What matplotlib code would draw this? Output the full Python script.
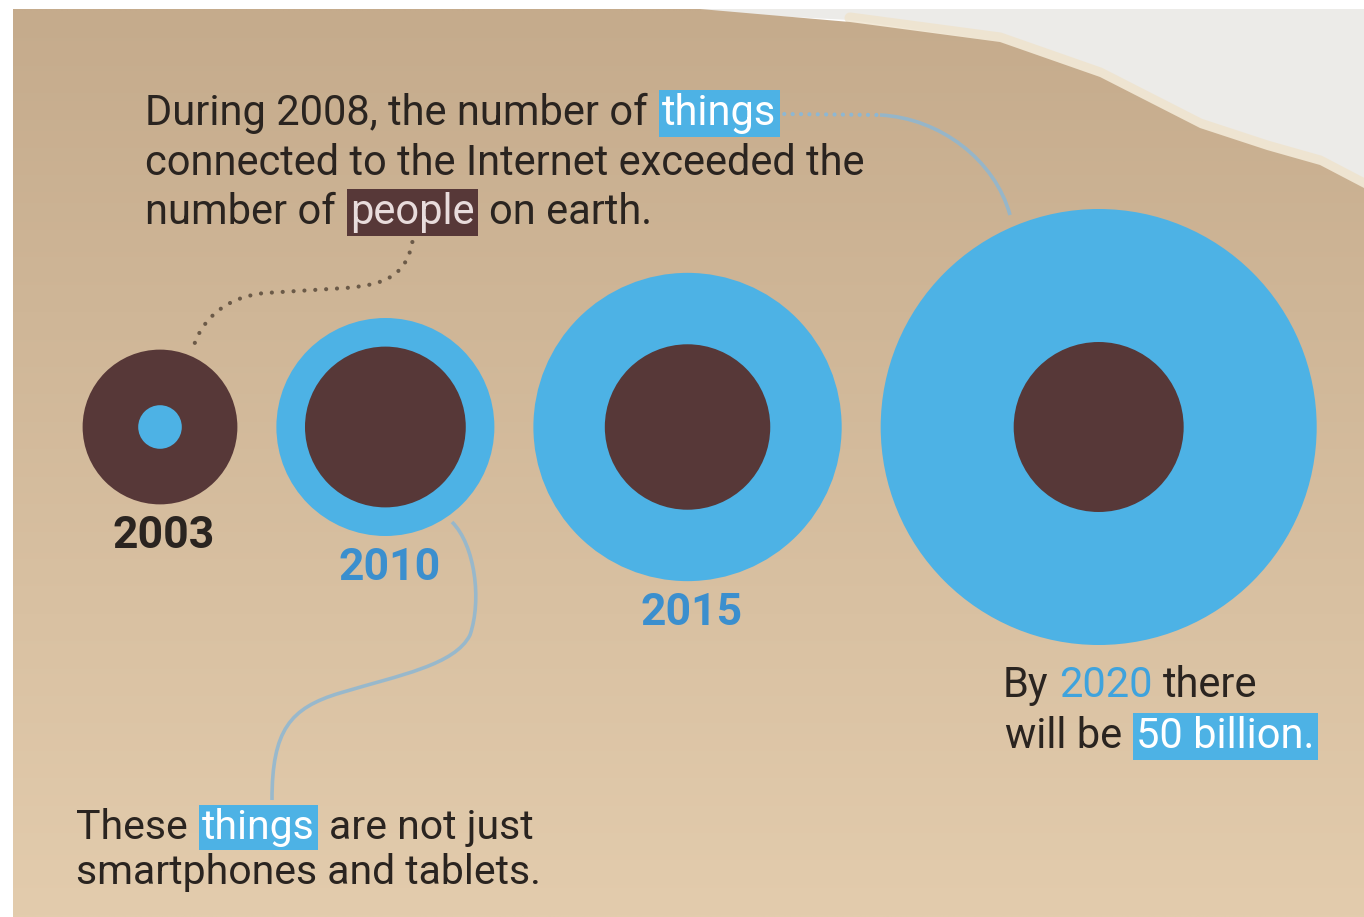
import numpy as np
import matplotlib.pyplot as plt
from matplotlib.patches import Circle, Polygon, PathPatch
from matplotlib.path import Path

# Data: things connected to the Internet vs people on earth (billions)
years = ['2003', '2010', '2015', '2020']
things_bn = [0.5, 12.5, 25, 50]
people_bn = [6.3, 6.8, 7.2, 7.6]
label_under = [True, True, True, False]

# colours
BLUE = '#4db2e5'
BROWN = '#573838'
INK = '#2a2420'
YEAR_BLUE = '#3b8fce'
LINE_BLUE = '#8db7d3'

W, H = 1364, 917
fig = plt.figure(figsize=(W / 100, H / 100), dpi=100, facecolor='white')
ax = fig.add_axes([0, 0, 1, 1])
ax.set_xlim(0, W)
ax.set_ylim(H, 0)
ax.axis('off')
renderer = fig.canvas.get_renderer()

# --- paper background ---
ax.add_patch(Polygon([(640, 9), (W, 9), (W, 200), (1000, 42), (850, 20)],
                     closed=True, fc='#ecebe8', ec='none', zorder=0))
paper_edge = [(13, 9), (700, 9), (850, 22), (1000, 42), (1100, 77), (1200, 128),
              (1267, 150), (1320, 165), (W, 188), (W, H), (13, H)]
ax.plot([p[0] for p in paper_edge[2:9]], [p[1] - 4 for p in paper_edge[2:9]],
        color='#efe3cc', lw=8, alpha=0.8, zorder=0.5, solid_capstyle='round')
paper = Polygon(paper_edge, closed=True, fc='none', ec='none')
ax.add_patch(paper)
top_c = np.array([197, 171, 140]) / 255
bot_c = np.array([227, 204, 173]) / 255
t = np.linspace(0, 1, 256)[:, None, None]
grad = top_c * (1 - t) + bot_c * t
grad = np.repeat(grad, 4, axis=1)
img = ax.imshow(grad, extent=(13, W, H, 9), aspect='auto', zorder=1, interpolation='bilinear')
img.set_clip_path(paper)

# --- circles, area proportional to value ---
k = 218 / np.sqrt(max(things_bn))
r_things = [k * np.sqrt(v) for v in things_bn]
r_people = [k * np.sqrt(v) for v in people_bn]
cy = 427
gap = 39
x = 160
for i, yr in enumerate(years):
    rt, rp = r_things[i], r_people[i]
    R = max(rt, rp)
    if i > 0:
        x += max(r_things[i - 1], r_people[i - 1]) + gap + R
    if rt >= rp:
        ax.add_patch(Circle((x, cy), rt, fc=BLUE, ec='none', zorder=3))
        ax.add_patch(Circle((x, cy), rp, fc=BROWN, ec='none', zorder=4))
    else:
        ax.add_patch(Circle((x, cy), rp, fc=BROWN, ec='none', zorder=3))
        ax.add_patch(Circle((x, cy), rt, fc=BLUE, ec='none', zorder=4))
    if label_under[i]:
        col = INK if people_bn[i] > things_bn[i] else YEAR_BLUE
        ax.text(x + 4, cy + R + 44, yr, ha='center', va='baseline', fontsize=32,
                fontweight='bold', color=col, zorder=5, family=['Roboto', 'DejaVu Sans'])

# --- annotation text with highlighted words ---
FAM = ['Roboto', 'DejaVu Sans']

def text_line(x, y, parts, size):
    sp = ax.text(0, 0, 'a a', fontsize=size, family=FAM)
    sp2 = ax.text(0, 0, 'aa', fontsize=size, family=FAM)
    space = sp.get_window_extent(renderer).width - sp2.get_window_extent(renderer).width
    sp.remove()
    sp2.remove()
    spans = []
    for s, style in parts:
        kw = dict(fontsize=size, family=FAM, va='baseline', zorder=6, color=INK)
        pad = 0
        if style == 'blue':
            kw.update(color='white', bbox=dict(boxstyle='square,pad=0.08', fc=BLUE, ec='none'))
            pad = 4
        elif style == 'dark':
            kw.update(color='#e8dcdc', bbox=dict(boxstyle='square,pad=0.08', fc=BROWN, ec='none'))
            pad = 4
        elif style == 'bluetext':
            kw.update(color='#3fa3dd')
        x += pad
        tx = ax.text(x, y, s, **kw)
        w = tx.get_window_extent(renderer).width
        spans.append((x - pad, x + w + pad))
        x += w + pad + space
    return spans

l1 = text_line(145, 125, [('During 2008, the number of', 'n'), ('things', 'blue')], 30)
text_line(145, 175, [('connected to the Internet exceeded the', 'n')], 30)
l3 = text_line(145, 224, [('number of', 'n'), ('people', 'dark'), ('on earth.', 'n')], 30)

text_line(76, 839, [('These', 'n'), ('things', 'blue'), ('are not just', 'n')], 29.5)
text_line(76, 884, [('smartphones and tablets.', 'n')], 29.5)

text_line(1003, 697, [('By', 'n'), ('2020', 'bluetext'), ('there', 'n')], 30)
text_line(1005, 748, [('will be', 'n'), ('50 billion.', 'blue')], 30)

# --- connector lines ---
def curve(points, codes, **kw):
    ax.add_patch(PathPatch(Path(points, codes), fc='none', **kw))

C4 = Path.CURVE4
# people -> 2003 (dotted brown)
px = (l3[1][0] + l3[1][1]) / 2
curve([(px, 242), (px - 6, 275), (px - 27, 285), (px - 67, 288), (265, 293),
       (225, 297), (200, 320), (192, 352)],
      [Path.MOVETO, C4, C4, C4, Path.LINETO, C4, C4, C4],
      ec='#6b5a48', lw=3, linestyle=(0, (0.01, 2.6)), capstyle='round', zorder=2)
# things -> 2020
tx_end = l1[1][1] + 4
curve([(tx_end, 114), (880, 115)], [Path.MOVETO, Path.LINETO],
      ec=LINE_BLUE, lw=3, linestyle=(0, (0.01, 2.0)), capstyle='round', zorder=2)
curve([(880, 115), (940, 118), (995, 160), (1010, 215)],
      [Path.MOVETO, C4, C4, C4], ec=LINE_BLUE, lw=2.6, alpha=0.85, zorder=2)
# 2010 -> "These things"
curve([(452, 522), (475, 545), (482, 600), (470, 635), (455, 665), (400, 675),
       (340, 693), (290, 708), (272, 730), (272, 800)],
      [Path.MOVETO, C4, C4, C4, C4, C4, C4, C4, C4, C4],
      ec=LINE_BLUE, lw=2.6, alpha=0.85, zorder=2)

fig.savefig('out.png', dpi=100, facecolor='white')
